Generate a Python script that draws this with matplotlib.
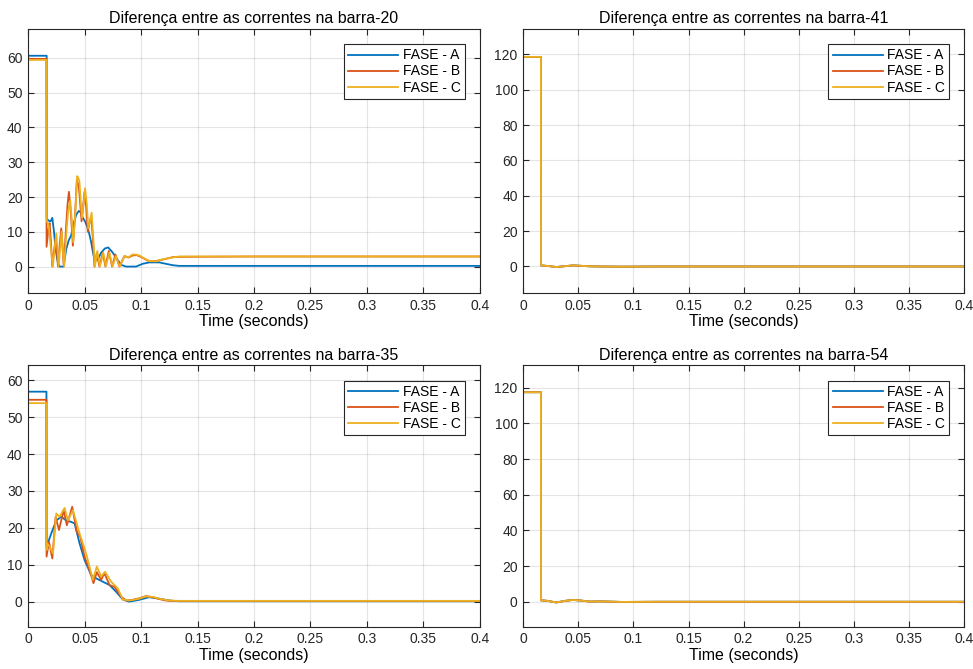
import matplotlib
matplotlib.use("Agg")
import matplotlib.pyplot as plt

plt.rcParams['font.family'] = ['Liberation Sans', 'DejaVu Sans']

# cores padrao do MATLAB
COR_A = '#0072BD'
COR_B = '#D95319'
COR_C = '#EDB120'

fases = ['FASE - A', 'FASE - B', 'FASE - C']

# ---------------- barra-20 ----------------
b20_t_a = [0, 0.0165, 0.0166, 0.0182, 0.0200, 0.0215, 0.0230, 0.0244, 0.0262, 0.0279,
           0.0315, 0.0338, 0.0360, 0.0382, 0.0405, 0.0428, 0.045, 0.0468, 0.0485,
           0.0505, 0.0529, 0.0545, 0.0559, 0.0575, 0.0588, 0.0618, 0.0647, 0.0680,
           0.0709, 0.0738, 0.0760, 0.0782, 0.0823, 0.0868, 0.0956, 0.1015, 0.1073,
           0.1162, 0.122, 0.1279, 0.1338, 0.2, 0.3, 0.4]
b20_a = [60.6, 60.6, 13.8, 13.2, 13.0, 14.0, 10.0, 5.0, 1.5, 0.0,
         0.0, 5.0, 7.5, 9.0, 12.5, 15.0, 16.0, 15.5, 14.0,
         13.0, 11.0, 9.0, 7.0, 4.0, 2.0, 2.0, 4.0, 5.2,
         5.5, 4.5, 3.5, 2.5, 0.5, 0.0, 0.0, 0.8, 1.2,
         1.2, 0.8, 0.4, 0.2, 0.2, 0.2, 0.2]

b20_t_b = [0, 0.0163, 0.0164, 0.0180, 0.0191, 0.0203, 0.0215, 0.0230, 0.0244, 0.0255,
           0.0265, 0.0280, 0.0294, 0.0305, 0.0315, 0.0327, 0.0338, 0.0350, 0.0362,
           0.0380, 0.0397, 0.0415, 0.0432, 0.0441, 0.045, 0.0462, 0.0474, 0.0487,
           0.05, 0.0515, 0.0529, 0.0544, 0.0559, 0.0574, 0.0588, 0.0609, 0.0632,
           0.0662, 0.0685, 0.0715, 0.0744, 0.0773, 0.0809, 0.0853, 0.0890, 0.0926,
           0.0960, 0.0985, 0.1015, 0.1073, 0.1132, 0.1191, 0.1279, 0.1338, 0.2, 0.3, 0.4]
b20_b = [59.7, 59.7, 5.7, 10.5, 12.5, 7.0, 0.0, 4.5, 8.0, 5.0,
         0.0, 6.0, 11.0, 6.0, 0.5, 6.0, 12.0, 18.0, 21.5,
         15.0, 6.0, 14.0, 25.0, 24.0, 23.0, 18.0, 13.0, 17.0,
         21.5, 17.0, 10.0, 12.5, 14.5, 8.0, 0.0, 4.0, 0.0,
         4.0, 0.0, 4.5, 0.0, 3.5, 0.0, 3.0, 2.6, 3.2,
         3.3, 3.0, 2.5, 1.5, 1.6, 2.0, 2.7, 2.8, 2.9, 2.9, 2.9]

b20_t_c = [0, 0.0165, 0.0166, 0.0182, 0.0200, 0.022, 0.0235, 0.025, 0.0260, 0.027,
           0.0284, 0.0297, 0.0308, 0.032, 0.0330, 0.034, 0.0355, 0.0374, 0.0388,
           0.04, 0.0418, 0.0435, 0.0445, 0.0455, 0.0466, 0.0478, 0.0492, 0.0505,
           0.0520, 0.0533, 0.0548, 0.0563, 0.0578, 0.0592, 0.0613, 0.0636, 0.0666,
           0.0689, 0.0719, 0.0748, 0.0777, 0.0813, 0.0853, 0.0890, 0.0926, 0.0960,
           0.0985, 0.1015, 0.1073, 0.1132, 0.1191, 0.1279, 0.1338, 0.2, 0.3, 0.4]
b20_c = [59.4, 59.4, 13.0, 12.0, 6.0, 0.0, 5.0, 9.5, 5.5, 0.0,
         5.0, 10.0, 5.0, 0.0, 5.0, 10.0, 16.0, 19.0, 13.0,
         7.0, 15.0, 26.0, 25.5, 24.5, 19.0, 14.0, 18.0, 22.5,
         18.0, 11.0, 13.0, 15.5, 8.0, 0.0, 4.5, 0.0, 4.0,
         0.0, 4.0, 0.0, 3.0, 0.0, 3.0, 2.7, 3.5, 3.4,
         3.2, 2.6, 1.6, 1.5, 2.1, 2.6, 2.9, 2.9, 2.9, 2.9]

# ---------------- barra-35 ----------------
b35_t_a = [0, 0.0163, 0.0164, 0.0206, 0.025, 0.0294, 0.0338, 0.0382, 0.0412, 0.0456,
           0.05, 0.0559, 0.0603, 0.0662, 0.0721, 0.0779, 0.0838, 0.0897, 0.0985,
           0.1073, 0.1162, 0.125, 0.1338, 0.2, 0.3, 0.4]
b35_a = [56.9, 56.9, 14.9, 18.5, 22.0, 23.0, 22.0, 21.6, 21.2, 15.8,
         11.3, 7.2, 6.3, 5.4, 4.5, 2.7, 0.6, 0.0, 0.5,
         1.2, 0.8, 0.3, 0.1, 0.1, 0.1, 0.1]

b35_t_b = [0, 0.0163, 0.0164, 0.0185, 0.0215, 0.0244, 0.0274, 0.0315, 0.0344, 0.0391,
           0.0432, 0.0462, 0.05, 0.0544, 0.0579, 0.0609, 0.0647, 0.0676, 0.0721,
           0.0765, 0.0823, 0.0868, 0.0926, 0.0985, 0.1044, 0.1103, 0.1162, 0.122,
           0.1279, 0.2, 0.3, 0.4]
b35_b = [54.7, 54.7, 12.2, 16.2, 11.7, 23.0, 19.4, 24.8, 20.7, 25.7,
         18.9, 17.6, 12.2, 8.6, 5.0, 8.0, 5.9, 7.7, 4.5,
         4.0, 1.4, 0.3, 0.5, 0.9, 1.5, 1.2, 0.7, 0.3,
         0.2, 0.2, 0.2, 0.2]

b35_t_c = [0, 0.0163, 0.0164, 0.0168, 0.0191, 0.0221, 0.025, 0.0279, 0.0324, 0.0353,
           0.0397, 0.0456, 0.0515, 0.0574, 0.0609, 0.0647, 0.0682, 0.0735, 0.0794,
           0.0838, 0.0897, 0.0985, 0.1044, 0.1103, 0.1162, 0.125, 0.1338, 0.2, 0.3, 0.4]
b35_c = [53.8, 53.8, 14.0, 15.8, 14.9, 13.0, 23.9, 23.0, 25.4, 22.0,
         24.8, 18.5, 13.0, 5.9, 9.5, 6.8, 8.1, 5.4, 3.6,
         0.6, 0.3, 0.8, 1.4, 1.3, 0.8, 0.3, 0.2, 0.2, 0.2, 0.2]

# ---------------- barra-41 e barra-54 ----------------
b41_t = [0, 0.016, 0.0161, 0.022, 0.03, 0.038, 0.045, 0.052, 0.06, 0.07, 0.09, 0.12, 0.2, 0.3, 0.4]
b41_a = [118.5, 118.5, 0.6, 0.3, -0.3, 0.2, 0.6, 0.4, 0.1, 0.0, -0.1, 0.0, 0.0, 0.0, 0.0]
b41_b = [118.5, 118.5, 0.6, 0.3, -0.3, 0.2, 0.6, 0.4, 0.1, 0.0, -0.1, 0.0, 0.0, 0.0, 0.0]
b41_c = [118.5, 118.5, 0.6, 0.3, -0.3, 0.2, 0.6, 0.4, 0.1, 0.0, -0.1, 0.0, 0.0, 0.0, 0.0]

b54_t = [0, 0.016, 0.0161, 0.022, 0.03, 0.038, 0.045, 0.052, 0.06, 0.07, 0.09, 0.12, 0.2, 0.3, 0.4]
b54_a = [117.5, 117.5, 0.8, 0.5, -0.4, 0.5, 1.0, 0.7, 0.1, 0.2, -0.1, 0.0, 0.0, 0.0, 0.0]
b54_b = [117.5, 117.5, 0.8, 0.5, -0.4, 0.5, 1.0, 0.7, 0.1, 0.2, -0.1, 0.0, 0.0, 0.0, 0.0]
b54_c = [117.5, 117.5, 0.8, 0.5, -0.4, 0.5, 1.0, 0.7, 0.1, 0.2, -0.1, 0.0, 0.0, 0.0, 0.0]

x_ticks = [0, 0.05, 0.1, 0.15, 0.2, 0.25, 0.3, 0.35, 0.4]
x_labels = ['0', '0.05', '0.1', '0.15', '0.2', '0.25', '0.3', '0.35', '0.4']

paineis = [
    # titulo, series, ylim, yticks, posicao [left, bottom, width, height]
    ('Diferença entre as correntes na barra-20',
     [(b20_t_a, b20_a), (b20_t_b, b20_b), (b20_t_c, b20_c)],
     (-7.6, 68.3), [0, 10, 20, 30, 40, 50, 60], [0.0288, 0.562, 0.4645, 0.3947]),
    ('Diferença entre as correntes na barra-41',
     [(b41_t, b41_a), (b41_t, b41_b), (b41_t, b41_c)],
     (-15, 134.3), [0, 20, 40, 60, 80, 100, 120], [0.5378, 0.562, 0.453, 0.3947]),
    ('Diferença entre as correntes na barra-35',
     [(b35_t_a, b35_a), (b35_t_b, b35_b), (b35_t_c, b35_c)],
     (-6.8, 64.0), [0, 10, 20, 30, 40, 50, 60], [0.0288, 0.0632, 0.4645, 0.3905]),
    ('Diferença entre as correntes na barra-54',
     [(b54_t, b54_a), (b54_t, b54_b), (b54_t, b54_c)],
     (-14, 132.5), [0, 20, 40, 60, 80, 100, 120], [0.5378, 0.0632, 0.453, 0.3905]),
]

fig = plt.figure(figsize=(9.73, 6.69), dpi=100)
fig.patch.set_facecolor('white')

for titulo, series, ylim, yticks, pos in paineis:
    ax = fig.add_axes(pos)
    for (t, v), cor, nome in zip(series, [COR_A, COR_B, COR_C], fases):
        ax.plot(t, v, color=cor, linewidth=1.3, label=nome, solid_joinstyle='round')
    ax.set_xlim(0, 0.4)
    ax.set_ylim(*ylim)
    ax.set_xticks(x_ticks)
    ax.set_xticklabels(x_labels)
    ax.set_yticks(yticks)
    ax.grid(True, color='#262626', alpha=0.12, linewidth=0.8)
    ax.tick_params(direction='in', top=True, right=True, length=4,
                   labelsize=10, colors='#262626', pad=4)
    for s in ax.spines.values():
        s.set_color('#262626')
        s.set_linewidth(0.8)
    ax.set_title(titulo, fontsize=11.5, color='black', pad=4)
    ax.set_xlabel('Time (seconds)', fontsize=11.5, labelpad=1, color='black')
    leg = ax.legend(loc='upper right', fontsize=10, handlelength=3.6,
                    fancybox=False, framealpha=1, edgecolor='#262626',
                    borderaxespad=1.1, labelspacing=0.15, borderpad=0.3,
                    handletextpad=0.3)
    leg.get_frame().set_linewidth(0.8)

fig.savefig('out.png', dpi=100)
